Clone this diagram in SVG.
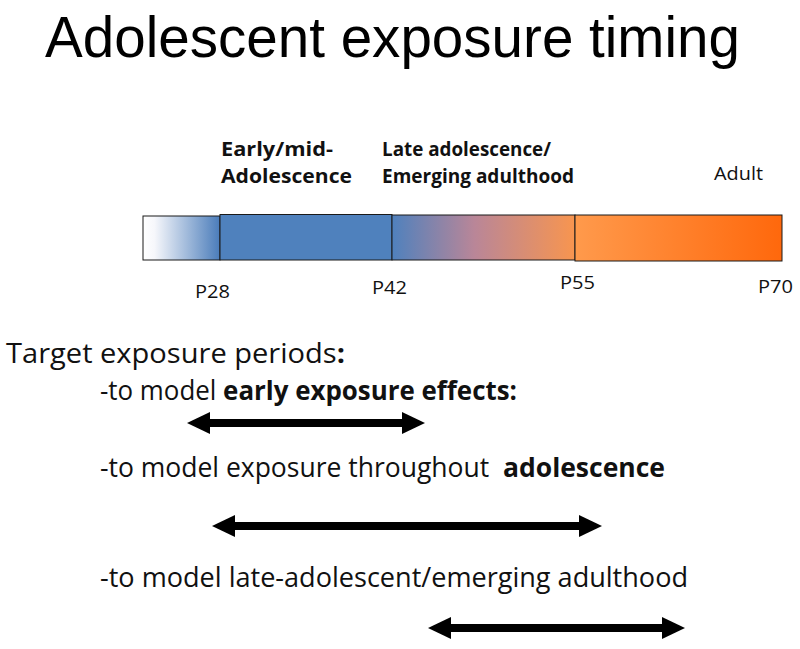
<svg xmlns="http://www.w3.org/2000/svg" width="800" height="649" viewBox="0 0 800 649">
<defs>
<style>
.title{font-family:"Liberation Sans",Arial,sans-serif;font-size:57px;fill:#000}
.lbl{font-family:"Open Sans","Noto Sans",sans-serif;font-size:19px;font-weight:bold;fill:#111}
.reg{font-family:"Open Sans","Noto Sans",sans-serif;font-size:19px;fill:#111}
.body{font-family:"Open Sans","Noto Sans",sans-serif;font-size:27px;fill:#111}
.b{font-weight:bold}
.seg{stroke:#1a1a1a;stroke-width:1}
.arr{stroke:#000;stroke-width:8;fill:none;marker-start:url(#head);marker-end:url(#head)}
</style>
<linearGradient id="g1" x1="0" x2="1" y1="0" y2="0">
<stop offset="0" stop-color="#ffffff"/>
<stop offset="0.15" stop-color="#f6f7fb"/>
<stop offset="1" stop-color="#4a7cba"/>
</linearGradient>
<linearGradient id="g3" x1="0" x2="1" y1="0" y2="0">
<stop offset="0" stop-color="#4f81bd"/>
<stop offset="0.45" stop-color="#b98698"/>
<stop offset="1" stop-color="#f8954f"/>
</linearGradient>
<linearGradient id="g4" x1="0" x2="1" y1="0" y2="0">
<stop offset="0" stop-color="#ff9a4c"/>
<stop offset="1" stop-color="#ff680c"/>
</linearGradient>
<marker id="head" viewBox="0 0 23 22" markerUnits="userSpaceOnUse" markerWidth="23" markerHeight="22" refX="2" refY="11" orient="auto-start-reverse">
<path d="M0,0 L23,11 L0,22 z" fill="#000"/>
</marker>
</defs>
<rect width="800" height="649" fill="#fff"/>
<text class="title" x="45" y="57" textLength="695" lengthAdjust="spacingAndGlyphs">Adolescent exposure timing</text>

<g id="timeline">
<rect class="seg" x="143" y="216" width="77" height="44" fill="url(#g1)"/>
<rect class="seg" x="220" y="214.5" width="172" height="45.5" fill="#4f81bd"/>
<rect class="seg" x="392" y="215" width="183" height="45" fill="url(#g3)"/>
<rect class="seg" x="575" y="215" width="207" height="46" fill="url(#g4)"/>
</g>

<g id="stage-labels">
<text class="lbl" x="221" y="156" textLength="112" lengthAdjust="spacingAndGlyphs">Early/mid-</text>
<text class="lbl" x="221" y="183" textLength="131" lengthAdjust="spacingAndGlyphs">Adolescence</text>
<text class="lbl" x="382" y="156" textLength="169" lengthAdjust="spacingAndGlyphs">Late adolescence/</text>
<text class="lbl" x="382" y="183" textLength="192" lengthAdjust="spacingAndGlyphs">Emerging adulthood</text>
<text class="reg" x="714" y="180" textLength="49" lengthAdjust="spacingAndGlyphs">Adult</text>
</g>

<g id="ticks">
<text class="reg" x="195" y="298" textLength="35" lengthAdjust="spacingAndGlyphs">P28</text>
<text class="reg" x="372" y="294" textLength="35" lengthAdjust="spacingAndGlyphs">P42</text>
<text class="reg" x="560" y="289" textLength="35" lengthAdjust="spacingAndGlyphs">P55</text>
<text class="reg" x="758" y="293" textLength="35" lengthAdjust="spacingAndGlyphs">P70</text>
</g>

<g id="periods">
<text class="body" x="6" y="363" textLength="339" lengthAdjust="spacingAndGlyphs">Target exposure periods<tspan class="b">:</tspan></text>
<text class="body" x="100" y="400" textLength="417" lengthAdjust="spacingAndGlyphs">-to model <tspan class="b">early exposure effects:</tspan></text>
<text class="body" x="100" y="477" textLength="565" lengthAdjust="spacingAndGlyphs">-to model exposure throughout&#160; <tspan class="b">adolescence</tspan></text>
<text class="body" x="100" y="587" textLength="588" lengthAdjust="spacingAndGlyphs">-to model late-adolescent/emerging adulthood</text>
</g>

<g id="connectors">
<line class="arr" x1="208" y1="423" x2="404" y2="423"/>
<line class="arr" x1="233" y1="526" x2="581" y2="526"/>
<line class="arr" x1="449" y1="628" x2="664" y2="628"/>
</g>
</svg>
